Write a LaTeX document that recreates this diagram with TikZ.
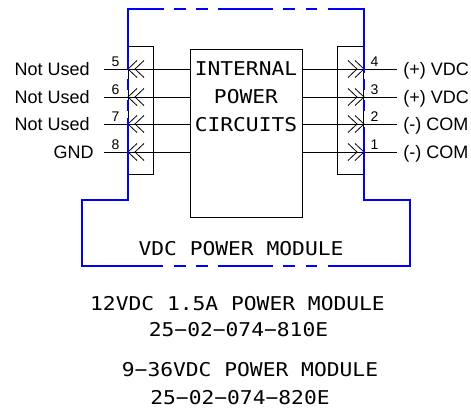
\documentclass[tikz,border=0pt]{standalone}
\usepackage{fontspec}
\setmainfont{Liberation Sans}
\newfontfamily\cadfont{DejaVu Sans Mono}[FakeStretch=1.12]
\usetikzlibrary{positioning}
\definecolor{hoodColor}{HTML}{0000FF}
\tikzset{
	pinlab/.style={font=\fontsize{18}{18}\selectfont, inner sep=0},
	pinnum/.style={font=\fontsize{14}{14}\selectfont, inner sep=0, anchor=base},
	cad/.style={font=\cadfont\fontsize{19}{19}\selectfont, inner sep=0, anchor=base},
	hood/.style={draw=hoodColor, line width=1.3pt},
	female/.pic={\draw (9,-8.5) -- (0,0) -- (9,8.5); \draw (16,-8.5) -- (7,0) -- (16,8.5);},
	male/.pic={\draw (-9,-8.5) -- (0,0) -- (-9,8.5); \draw (-16,-8.5) -- (-7,0) -- (-16,8.5);}
}

\begin{document}
\begin{tikzpicture}[x=1pt,y=-1pt,line width=0.8pt]
	\useasboundingbox (0,0) rectangle (471,408);
	\node[draw, minimum width=112pt, minimum height=168pt, inner sep=0] (circ) at (246,133) {};
	\node[draw, minimum width=25pt, minimum height=128pt, inner sep=0, anchor=north west] (jl) at (128,46) {};
	\node[draw, minimum width=26pt, minimum height=128pt, inner sep=0, anchor=north east] (jr) at (364,46) {};
	\foreach \t [count=\i] in {INTERNAL,POWER,CIRCUITS}
		\node[cad] (ct\i) at (246,47+28*\i) {\t};
	
	\foreach \n/\y/\x/\lab in {5/69/90/Not Used,6/97/90/Not Used,7/124/90/Not Used,8/152/94/GND} {
		\coordinate (p\n) at (104,\y);
		\node[pinlab, anchor=base east] (l\n) at (\x,\y+6) {\lab};
		\node[pinnum] (n\n) at (115.5,\y-2.5) {\n};
		\draw (p\n) -- (circ.west |- p\n);
		\pic at (128,\y) {female};
	}
	\foreach \n/\y/\lab in {4/69/(+) VDC,3/97/(+) VDC,2/124/(-) COM,1/152/(-) COM} {
		\coordinate (p\n) at (397,\y);
		\node[pinlab, anchor=base west] (l\n) at (403,\y+6.5) {\lab};
		\node[pinnum] (n\n) at (374.5,\y-2.5) {\n};
		\draw (circ.east |- p\n) -- (p\n);
		\pic at (364,\y) {male};
	}
	
	\draw[hood] (164,9) -- (128,9) -- (128,70);
	\draw[hood] (128,118) -- (128,200) -- (82,200) -- (82,266) -- (163,266);
	\draw[hood] (328,9) -- (364,9) -- (364,73);
	\draw[hood] (364,127) -- (364,200) -- (410,200) -- (410,266) -- (328,266);
	\draw[hood] (218,9) -- (273,9);
	\draw[hood] (218,266) -- (273,266);
	\foreach \a/\b in {174/186,196/208,283/295,306/317} {
		\draw[hood] (\a,9) -- (\b,9);
		\draw[hood] (\a,266) -- (\b,266);
	}
	\foreach \a/\b in {79/90,100/111} {
		\draw[hood] (128,\a) -- (128,\b);
		\draw[hood] (364,\a) -- (364,\b);
	}
	
	\node[cad] (title) at (241,255) {VDC POWER MODULE};
	\node[cad] (moda) at (237.5,310) {12VDC 1.5A POWER MODULE};
	\node[cad] (parta) at (238.5,336) {25−02−074−810E};
	\node[cad] (modb) at (250,376) {9−36VDC POWER MODULE};
	\node[cad] (partb) at (240,404) {25−02−074−820E};
\end{tikzpicture}
\end{document}
